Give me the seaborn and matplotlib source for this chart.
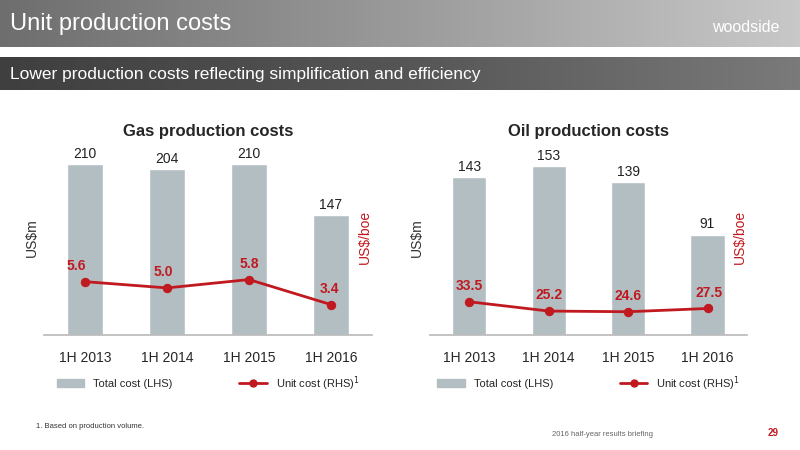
import matplotlib
matplotlib.use("Agg")
import matplotlib.pyplot as plt
import seaborn as sns
import pandas as pd
from matplotlib.patches import Rectangle
from matplotlib.lines import Line2D
from matplotlib.colors import LinearSegmentedColormap
import numpy as np

periods = ["1H 2013", "1H 2014", "1H 2015", "1H 2016"]
gas_total = [210, 204, 210, 147]
gas_unit = [5.6, 5.0, 5.8, 3.4]
oil_total = [143, 153, 139, 91]
oil_unit = [33.5, 25.2, 24.6, 27.5]

sns.set_theme(style="white")
plt.rcParams['font.family'] = ['Liberation Sans', 'DejaVu Sans']
BAR = "#b3bec3"
RED = "#c0191f"

fig = plt.figure(figsize=(8, 4.5), dpi=100)
hdr = fig.add_axes([0, 0, 1, 1], zorder=-5)
hdr.axis("off")
grad = np.linspace(0, 1, 256).reshape(1, -1)
cm = LinearSegmentedColormap.from_list("g", ["#6e6e6e", "#9a9a9a", "#c8c8c8"])
hdr.imshow(grad, extent=[0, 1, 1 - 47/450, 1], cmap=cm, aspect="auto")
cm2 = LinearSegmentedColormap.from_list("g2", ["#3f3f3f", "#555555", "#7a7a7a"])
hdr.imshow(grad, extent=[0, 1, 1 - 90/450, 1 - 57/450], cmap=cm2, aspect="auto")
hdr.set_xlim(0, 1); hdr.set_ylim(0, 1)
fig.text(0.012, 1 - 24/450, "Unit production costs", color="white", fontsize=17, va="center")
fig.text(0.012, 1 - 74/450, "Lower production costs reflecting simplification and efficiency",
         color="white", fontsize=12.5, va="center")
fig.text(0.89, 1 - 27/450, "woodside", color="white", fontsize=11.5, va="center")
fig.text(0.045, 1 - 428/450, "1. Based on production volume.", fontsize=5.5, color="#333333")
fig.text(0.69, 1 - 436/450, "2016 half-year results briefing", fontsize=5.5, color="#666666")
fig.text(0.96, 1 - 436/450, "29", fontsize=7, color="#c0191f", fontweight="bold")

def panel(rect, title, totals, units, ylim_l, ylim_r, labx):
    ax = fig.add_axes(rect)
    df = pd.DataFrame({"p": periods, "t": totals, "u": units})
    sns.barplot(data=df, x="p", y="t", color=BAR, width=0.43, ax=ax, saturation=1)
    ax.set_ylim(0, ylim_l)
    ax.set_xlim(-0.5, 3.5)
    for i, v in enumerate(totals):
        ax.text(i, v + 4 * ylim_l / 240, str(v), ha="center", va="bottom", fontsize=10, color="#222222")
    ax.set_yticks([]); ax.set_xlabel(""); ax.set_ylabel("US$m", fontsize=10, color="#333333")
    ax.tick_params(axis="x", labelsize=10, length=0, pad=12)
    for s in ["top", "left", "right"]:
        ax.spines[s].set_visible(False)
    ax.spines["bottom"].set_color("#bbbbbb")
    ax.set_title(title, fontsize=12, fontweight="bold", pad=3)
    ax2 = ax.twinx()
    sns.lineplot(x=np.arange(4), y=units, ax=ax2, color=RED, lw=2, marker="o",
                 markersize=6, markeredgecolor=RED)
    ax2.set_ylim(*ylim_r)
    ax2.set_yticks([])
    for s in ["top", "left", "right", "bottom"]:
        ax2.spines[s].set_visible(False)
    ax2.set_ylabel("US$/boe", color=RED, fontsize=10, labelpad=-10)
    span = ylim_r[1] - ylim_r[0]
    for i, v in enumerate(units):
        ax2.text(i + labx[i], v + 0.045 * span, f"{v}", color=RED, fontsize=10,
                 fontweight="bold", ha="center", va="bottom")
    handles = [Rectangle((0, 0), 1, 1, color=BAR),
               Line2D([0], [0], color=RED, lw=2, marker="o", markersize=5)]
    ax.legend(handles, ["Total cost (LHS)", "Unit cost (RHS)$^1$"], loc="upper center",
              bbox_to_anchor=(0.5, -0.15), ncol=2, frameon=False, fontsize=8,
              handlelength=2.5, columnspacing=6)
    return ax

panel([0.055, 0.256, 0.41, 0.433], "Gas production costs", gas_total, gas_unit, 240, (0.5, 19.2),
      [-0.1, -0.05, 0, -0.02])
panel([0.537, 0.256, 0.397, 0.433], "Oil production costs", oil_total, oil_unit, 177, (4, 178),
      [0, 0, 0, 0.02])
fig.savefig("out.png", dpi=100)
